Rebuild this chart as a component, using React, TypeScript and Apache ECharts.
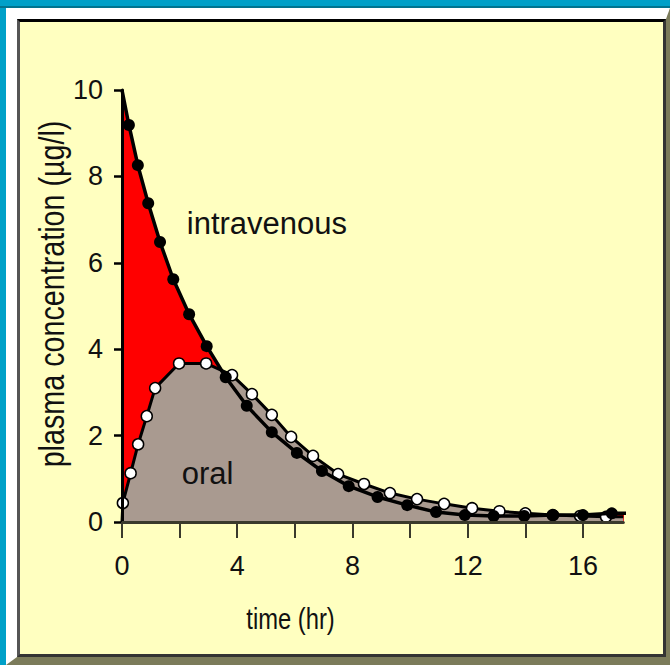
import React, { useEffect, useRef } from "react";
import * as echarts from "echarts";

// ---- data ----
const ivTime = [0, 0.24, 0.55, 0.91, 1.32, 1.78, 2.33, 2.94, 3.6, 4.33, 5.2, 6.07, 6.94, 7.87, 8.87, 9.9, 10.9, 11.9, 12.9, 13.96, 14.97, 16.0, 17.0, 17.8];
const ivConc = [10, 9.19, 8.26, 7.38, 6.48, 5.62, 4.81, 4.07, 3.35, 2.69, 2.08, 1.6, 1.18, 0.83, 0.58, 0.39, 0.23, 0.16, 0.14, 0.14, 0.16, 0.16, 0.2, 0.2];
const oralTime = [0, 0.03, 0.3, 0.56, 0.86, 1.15, 1.98, 2.92, 3.82, 4.51, 5.2, 5.87, 6.63, 7.5, 8.4, 9.3, 10.24, 11.18, 12.15, 13.1, 14.0, 14.95, 15.9, 16.8, 17.4];
const oralConc = [0, 0.44, 1.13, 1.8, 2.45, 3.1, 3.67, 3.67, 3.4, 2.96, 2.48, 1.97, 1.53, 1.11, 0.88, 0.67, 0.53, 0.42, 0.32, 0.25, 0.2, 0.16, 0.14, 0.12, 0.12];

const xTickValues = [0, 2, 4, 6, 8, 10, 12, 14, 16];
const xLabelValues = [0, 4, 8, 12, 16];
const xMax = 17.4;
const yMax = 10;
const yInterval = 2;

const xAxisTitle = "time (hr)";
const yAxisTitle = "plasma concentration (µg/l)";
const ivLabel = "intravenous";
const oralLabel = "oral";
const ivLabelAt = [5.03, 6.92];
const oralLabelAt = [2.97, 1.13];

const REG = "'Liberation Sans', Arial, sans-serif";

export default function App() {
  const ref = useRef<HTMLDivElement>(null);

  useEffect(() => {
    const chart = echarts.init(ref.current!, undefined, { renderer: "svg" });
    const lastIv = ivTime.length - 1;
    const lastOral = oralTime.length - 1;
    const ivData = ivTime.map((t, i) => ({
      value: [t, ivConc[i]],
      symbol: i === 0 || i === lastIv ? "none" : "circle",
    }));
    const ivAreaData = ivTime.map((t, i) => [t, ivConc[i]]);
    const oralData = oralTime.map((t, i) => ({
      value: [t, oralConc[i]],
      symbol: i === 0 || i === lastOral ? "none" : "circle",
    }));

    const gridLeft = 122;
    const gridTop = 90;
    const gridW = 501.3;
    const gridH = 432;

    chart.setOption({
      animation: false,
      backgroundColor: "transparent",
      grid: { left: gridLeft, top: gridTop, width: gridW, height: gridH },
      xAxis: {
        type: "value",
        min: 0,
        max: xMax,
        interval: 2,
        z: 5,
        axisLine: { show: true, onZero: false, lineStyle: { color: "#3a3a2c", width: 3 } },
        axisTick: { show: true, length: 16, customValues: xTickValues, lineStyle: { color: "#3a3a2c", width: 2 } },
        axisLabel: { customValues: xLabelValues, margin: 30, fontSize: 27, fontFamily: REG, color: "#111" },
        splitLine: { show: false },
      },
      yAxis: {
        type: "value",
        min: 0,
        max: yMax,
        interval: yInterval,
        z: 5,
        axisLine: { show: true, lineStyle: { color: "#000", width: 3 } },
        axisTick: { show: true, length: 8, lineStyle: { color: "#000", width: 2.5 } },
        axisLabel: { margin: 19, fontSize: 27, fontFamily: REG, color: "#111" },
        splitLine: { show: false },
      },
      series: [
        {
          type: "line",
          data: ivAreaData,
          z: 1,
          symbol: "none",
          lineStyle: { width: 0, opacity: 0 },
          areaStyle: { color: "#FF0000", opacity: 1 },
        },
        {
          type: "line",
          data: oralData,
          z: 2,
          symbolSize: 11,
          itemStyle: { color: "#FFFFFF", borderColor: "#000", borderWidth: 1.5 },
          lineStyle: { color: "#000", width: 3 },
          areaStyle: { color: "#A99A90", opacity: 1 },
        },
        {
          type: "line",
          data: ivData,
          z: 3,
          clip: false,
          symbolSize: 12,
          itemStyle: { color: "#000", borderColor: "#000", borderWidth: 0 },
          lineStyle: { color: "#000", width: 3.5 },
        },
      ],
    });

    const ivPx = chart.convertToPixel({ gridIndex: 0 }, ivLabelAt) as number[];
    const oralPx = chart.convertToPixel({ gridIndex: 0 }, oralLabelAt) as number[];

    chart.setOption({
      graphic: [
        {
          type: "text",
          x: ivPx[0],
          y: ivPx[1],
          z: 10,
          style: { text: ivLabel, fontSize: 31, fontFamily: REG, fill: "#111", align: "center", verticalAlign: "middle" },
        },
        {
          type: "text",
          x: oralPx[0],
          y: oralPx[1],
          z: 10,
          style: { text: oralLabel, fontSize: 31, fontFamily: REG, fill: "#111", align: "center", verticalAlign: "middle" },
        },
        {
          type: "text",
          x: 290.5,
          y: 619,
          scaleX: 0.82,
          z: 10,
          style: { text: xAxisTitle, fontSize: 29, fontFamily: REG, fill: "#111", align: "center", verticalAlign: "middle" },
        },
        {
          type: "text",
          x: 52,
          y: 294,
          rotation: Math.PI / 2,
          scaleX: 0.82,
          z: 10,
          style: { text: yAxisTitle, fontSize: 35, fontFamily: REG, fill: "#111", align: "center", verticalAlign: "middle" },
        },
      ],
    });

    return () => chart.dispose();
  }, []);

  return (
    <div style={{ position: "fixed", left: 0, top: 0, width: 670, height: 665, background: "#00A0C8", overflow: "hidden" }}>
      <div style={{ position: "absolute", left: 0, top: 6, width: 670, height: 2, background: "#00748f" }} />
      <div
        style={{
          position: "absolute",
          left: 6,
          top: 8,
          width: 664,
          height: 657,
          boxSizing: "border-box",
          borderTop: "11px solid #FFFFFF",
          borderLeft: "11px solid #FFFFFF",
          borderRight: "4px solid #7B7B5A",
          borderBottom: "8px solid #7B7B5A",
        }}
      >
        <div
          style={{
            width: "100%",
            height: "100%",
            boxSizing: "border-box",
            background: "#FFFFC0",
            borderTop: "3px solid #000",
            borderLeft: "3px solid #555",
            borderRight: "3px solid #333",
            borderBottom: "3px solid #333",
          }}
        />
      </div>
      <div ref={ref} style={{ position: "absolute", left: 0, top: 0, width: 670, height: 665 }} />
    </div>
  );
}
